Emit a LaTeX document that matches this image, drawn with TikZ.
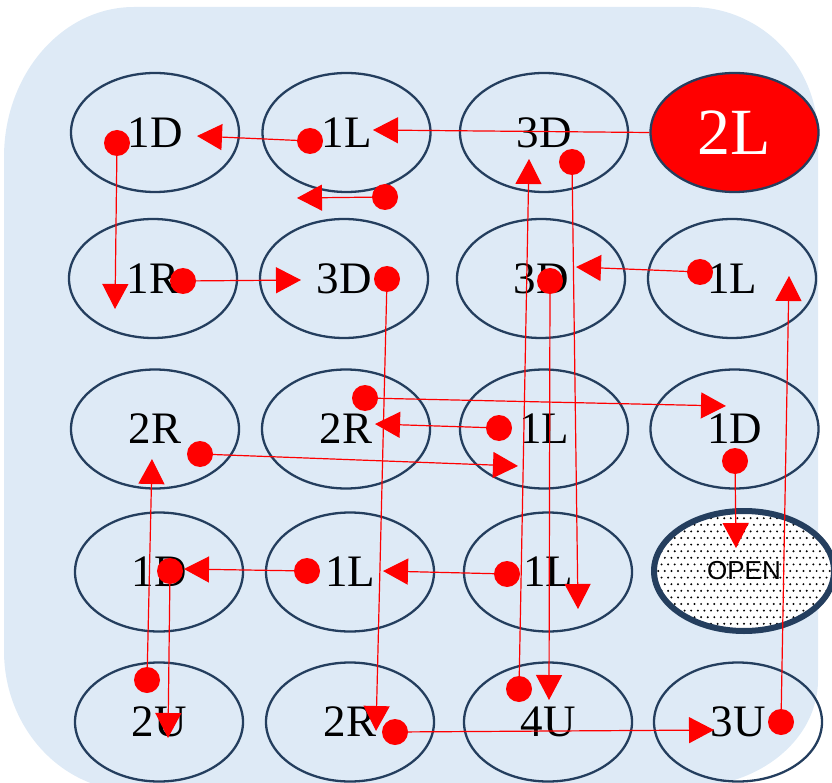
\documentclass[tikz,border=0pt]{standalone}
\usepackage{fontspec}
\setmainfont{Liberation Serif}
\newfontfamily\opensansfont{Liberation Sans}
\usetikzlibrary{shapes.geometric,arrows.meta}
\definecolor{bgblue}{HTML}{DEEAF6}
\definecolor{navy}{HTML}{243E5E}
\definecolor{myred}{HTML}{FF0000}
\begin{document}
\begin{tikzpicture}[x=1pt,y=-1pt,
  cell/.style={ellipse, draw=navy, line width=2.3pt, minimum width=168pt, minimum height=119pt,
    inner sep=0pt, font=\fontsize{45}{45}\selectfont, text=black},
  hotcell/.style={cell, fill=myred, text=white, font=\fontsize{66}{66}\selectfont},
  opencell/.style={ellipse, draw=navy, line width=6pt, fill=white, minimum width=180pt,
    minimum height=120pt, inner sep=0pt, font=\opensansfont\fontsize{26}{26}\selectfont,
    path picture={
      \foreach \i in {-16,...,16}{
        \foreach \j in {-11,...,11}{
          \pgfmathsetmacro{\xo}{\i*6.6+mod(abs(\j),2)*3.3}
          \fill[black] ([xshift=\xo pt, yshift=\j*6.6 pt]path picture bounding box.center) circle[radius=1.1pt];
        }
      }
    }},
  dotnode/.style={circle, fill=myred, inner sep=0pt, minimum size=26pt},
  mvarrow/.style={draw=myred, line width=1.2pt, -{Triangle[length=25pt,width=26pt]}},
]
\useasboundingbox (0,0) rectangle (832,783);
% background
\fill[bgblue] (134,7) -- (691,7) arc[start angle=-90, end angle=0, x radius=127, y radius=130]
  -- (818,680) arc[start angle=0, end angle=90, x radius=130, y radius=107]
  -- (134,791) arc[start angle=90, end angle=180, x radius=130, y radius=140]
  -- (4,157) arc[start angle=180, end angle=270, x radius=130, y radius=150] -- cycle;

% cells
\node[cell] (c11) at (155,132.5) {1D};
\node[cell] (c12) at (346.5,132.5) {1L};
\node[cell] (c13) at (544,132.5) {3D};
\node[hotcell] (c14) at (734.5,132.5) {2L};
\node[cell] (c21) at (153,278.5) {1R};
\node[cell] (c22) at (344,278.5) {3D};
\node[cell] (c23) at (541,278.5) {3D};
\node[cell] (c24) at (732,278.5) {1L};
\node[cell] (c31) at (155,429) {2R};
\node[cell] (c32) at (346,429) {2R};
\node[cell] (c33) at (544,429) {1L};
\node[cell] (c34) at (734.5,429) {1D};
\node[cell] (c41) at (159,572) {1D};
\node[cell] (c42) at (350,572) {1L};
\node[cell] (c43) at (548,572) {1L};
\node[opencell] (open) at (744,571) {OPEN};
\node[cell] (c51) at (159,722) {2U};
\node[cell] (c52) at (350,722) {2R};
\node[cell] (c53) at (548,722) {4U};
\node[cell] (c54) at (738,722) {3U};

% dot positions
\coordinate (d2) at (310,141);
\coordinate (d3) at (117,143);
\coordinate (d4) at (385,197);
\coordinate (d5) at (519,689);
\coordinate (d6) at (572,162);
\coordinate (d7) at (183,281);
\coordinate (d8) at (387,279);
\coordinate (d9) at (700,272);
\coordinate (d10) at (550,281);
\coordinate (d11) at (781,722);
\coordinate (d12) at (365,398);
\coordinate (d13) at (499,428);
\coordinate (d14) at (200,454);
\coordinate (d15) at (735,461);
\coordinate (d16) at (147,680);
\coordinate (d17) at (170,571);
\coordinate (d18) at (307,571);
\coordinate (d19) at (507,574);
\coordinate (d20) at (395,732);

% arrow tips
\coordinate (t1) at (373,130);
\coordinate (t2) at (197,136);
\coordinate (t3) at (115,309);
\coordinate (t4) at (297,198);
\coordinate (t5) at (529,159);
\coordinate (t6) at (578,609);
\coordinate (t7) at (301,280);
\coordinate (t8) at (376,731);
\coordinate (t9) at (576,267);
\coordinate (t10) at (549,700);
\coordinate (t11) at (789,276);
\coordinate (t12) at (726,406);
\coordinate (t13) at (375,424);
\coordinate (t14) at (518,466);
\coordinate (t15) at (736,548);
\coordinate (t16) at (152,459);
\coordinate (t17) at (168,738);
\coordinate (t18) at (184,569);
\coordinate (t19) at (383,571);
\coordinate (t20) at (714,730);

% connectors
\draw[mvarrow] (c14.west) -- (t1);
\foreach \k in {2,...,20}{
  \draw[mvarrow] (d\k) -- (t\k);
}

% dots on top
\foreach \k in {2,...,20}{
  \node[dotnode] (dot\k) at (d\k) {};
}
\end{tikzpicture}
\end{document}
